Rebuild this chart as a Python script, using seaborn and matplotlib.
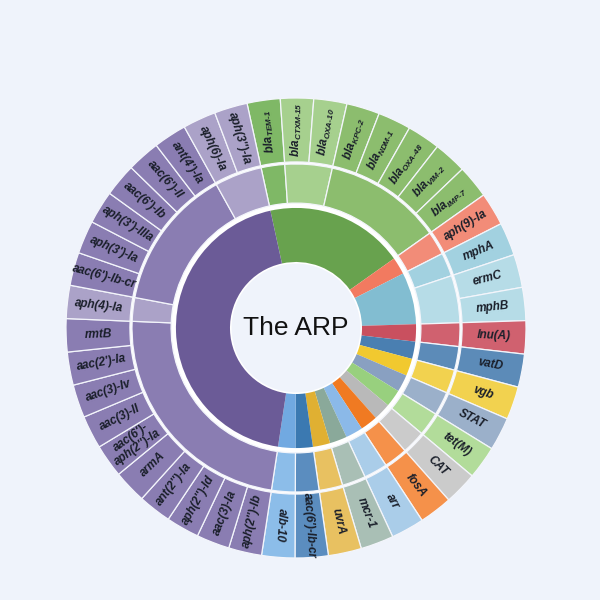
import numpy as np
import matplotlib.pyplot as plt
import seaborn as sns

# outer ring: one gene per wedge, clockwise from the top
genes = ["bla$_{\\mathregular{TEM\u20101}}$", "bla$_{\\mathregular{CTXM\u201015}}$", "bla$_{\\mathregular{OXA\u201010}}$",
         "bla$_{\\mathregular{KPC\u20102}}$", "bla$_{\\mathregular{NDM\u20101}}$", "bla$_{\\mathregular{OXA\u201048}}$",
         "bla$_{\\mathregular{VIM\u20102}}$", "bla$_{\\mathregular{IMP\u20107}}$",
         "aph(9)-Ia", "mphA", "ermC", "mphB", "lnu(A)", "vatD", "vgb", "STAT", "tet(M)", "CAT",
         "fosA", "arr", "mcr-1", "uvrA", "aac(6')-Ib-cr", "alb-10",
         "aph(2'')-Ib", "aac(3)-Ia", "aph(2'')-Id", "ant(2'')-Ia", "armA", "aac(6')-\naph(2'')-Ia",
         "aac(3)-II", "aac(3)-Iv", "aac(2')-Ia", "rmtB", "aph(4)-Ia", "aac(6')-Ib-cr",
         "aph(3')-Ia", "aph(3')-IIIa", "aac(6')-Ib", "aac(6')-II", "ant(4')-Ia", "aph(6)-Ia", "aph(3'')-Ia"]
gene_counts = [1, 1, 1, 1, 1, 1, 1, 1,
               1, 1, 1, 1, 1, 1, 1, 1, 1, 1, 1, 1, 1, 1, 1, 1,
               1, 1, 1, 1, 1, 1, 1, 1, 1, 1, 1, 1, 1, 1, 1, 1, 1, 1, 1]
gene_colors = ["#7fb866", "#a6d08e", "#a6d08e", "#8cbd6e", "#8cbd6e", "#8cbd6e", "#8cbd6e", "#8cbd6e",
               "#f28c78", "#a2d1e0", "#b6dce7", "#b6dce7", "#d0616f", "#5c8bb8", "#f2d24f", "#9bb0ca",
               "#b2dc9a", "#cbcbcb", "#f5914a", "#aacde9", "#a9bfb5", "#e8c161", "#5b8dbf", "#8cbde9",
               "#8a7db2", "#8a7db2", "#8a7db2", "#8a7db2", "#8a7db2", "#8a7db2", "#8a7db2", "#8a7db2",
               "#8a7db2", "#8a7db2", "#aba2c8", "#8a7db2", "#8a7db2", "#8a7db2", "#8a7db2", "#8a7db2",
               "#8a7db2", "#aba2c8", "#aba2c8"]

# middle ring: sub-groups (number of genes in each)
mid_counts = [1, 2, 5, 1, 1, 2, 1, 1, 1, 1, 1, 1, 1, 1, 1, 1, 1, 1, 10, 1, 6, 2]
mid_colors = ["#7fb866", "#a6d08e", "#8cbd6e", "#f28c78", "#a2d1e0", "#b6dce7", "#d0616f", "#5c8bb8",
              "#f2d24f", "#9bb0ca", "#b2dc9a", "#cbcbcb", "#f5914a", "#aacde9", "#a9bfb5", "#e8c161",
              "#5b8dbf", "#8cbde9", "#8a7db2", "#aba2c8", "#8a7db2", "#aba2c8"]

# inner ring: resistance classes
class_counts = [8, 1, 3, 1, 1, 1, 1, 1, 1, 1, 1, 1, 1, 1, 1, 19]
class_colors = ["#68a24e", "#f27a60", "#82bdd1", "#c9505f", "#4a7fb1", "#f1c92f", "#89a0c1",
                "#98d07e", "#b9b9b9", "#f07a22", "#8bb9e8", "#8aa99a", "#e0b032", "#3b79b1",
                "#71a9e1", "#6b5b97"]

bg = "#eff3fb"
sns.set_theme(style="white")
plt.rcParams["font.family"] = ["Liberation Sans", "DejaVu Sans"]

fig = plt.figure(figsize=(6, 6), dpi=100, facecolor=bg)
ax = fig.add_axes([0, 0, 1, 1])
ax.set_facecolor(bg)

start = 102.3
edge = dict(edgecolor="#f3f5fb", linewidth=0.9)

# white band behind the rings so the gaps between them show white
ax.pie([1], colors=["white"], radius=1.0, wedgeprops=dict(width=0.72, linewidth=0))
ax.pie(class_counts, colors=class_colors, radius=0.522, startangle=start, counterclock=False,
       wedgeprops=dict(width=0.235, linewidth=0))
ax.pie(mid_counts, colors=mid_colors, radius=0.713, startangle=start, counterclock=False,
       wedgeprops=dict(width=0.17, **edge))
outer, _ = ax.pie(gene_counts, colors=gene_colors, radius=1.0, startangle=start, counterclock=False,
                  wedgeprops=dict(width=0.278, **edge))

for w, lab in zip(outer, genes):
    mid = np.deg2rad((w.theta1 + w.theta2) / 2)
    r = 0.861
    rot = np.rad2deg(mid)
    rot = (rot + 180) % 360 - 180
    if np.cos(mid) < -0.18:
        rot += 180
    ax.text(r * np.cos(mid), r * np.sin(mid), lab, rotation=rot, rotation_mode="anchor",
            ha="center", va="center", fontsize=8.5, fontweight="bold", fontstyle="italic",
            color="#1a1f2a", linespacing=0.95)

ax.text(0, 0, "The ARP", ha="center", va="center", fontsize=19, color="#111111")

ax.set_xlim(-296 / 230, 304 / 230)
ax.set_ylim(-272 / 230, 328 / 230)
ax.set_aspect("equal")
ax.axis("off")

fig.savefig("out.png", dpi=100, facecolor=bg)
